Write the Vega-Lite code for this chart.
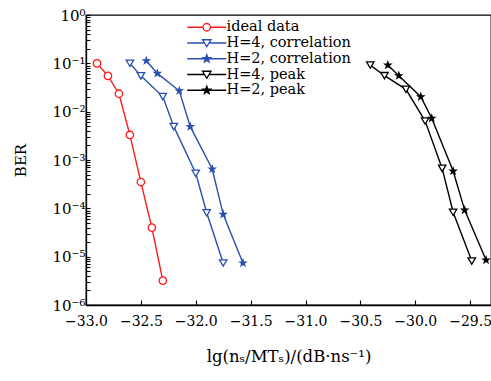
{
  "$schema": "https://vega.github.io/schema/vega-lite/v6.json",
  "width": 405,
  "height": 290,
  "autosize": {"type": "none"},
  "padding": {"left": 86, "top": 15, "right": 0, "bottom": 76},
  "config": {
    "font": "DejaVu Serif",
    "view": {"stroke": "black", "strokeWidth": 1.3},
    "axis": {"domainColor": "black", "domainWidth": 1.3, "tickColor": "black", "tickWidth": 1.1, "labelColor": "black", "titleColor": "black", "grid": false, "labelFont": "DejaVu Serif", "titleFont": "DejaVu Serif", "titleFontWeight": "normal"}
  },
  "data": {"values": [
    {"series": "ideal data", "x": -32.9, "y": 0.1},
    {"series": "ideal data", "x": -32.8, "y": 0.055},
    {"series": "ideal data", "x": -32.7, "y": 0.0235},
    {"series": "ideal data", "x": -32.6, "y": 0.0033},
    {"series": "ideal data", "x": -32.5, "y": 0.00035},
    {"series": "ideal data", "x": -32.4, "y": 0.00004},
    {"series": "ideal data", "x": -32.3, "y": 0.0000032},
    {"series": "H=4, correlation", "x": -32.6, "y": 0.1},
    {"series": "H=4, correlation", "x": -32.5, "y": 0.055},
    {"series": "H=4, correlation", "x": -32.3, "y": 0.0205},
    {"series": "H=4, correlation", "x": -32.2, "y": 0.0049},
    {"series": "H=4, correlation", "x": -32.0, "y": 0.00053},
    {"series": "H=4, correlation", "x": -31.9, "y": 0.000081},
    {"series": "H=4, correlation", "x": -31.75, "y": 0.0000074},
    {"series": "H=2, correlation", "x": -32.45, "y": 0.113},
    {"series": "H=2, correlation", "x": -32.35, "y": 0.062},
    {"series": "H=2, correlation", "x": -32.15, "y": 0.027},
    {"series": "H=2, correlation", "x": -32.05, "y": 0.0049},
    {"series": "H=2, correlation", "x": -31.85, "y": 0.00065},
    {"series": "H=2, correlation", "x": -31.75, "y": 0.000075},
    {"series": "H=2, correlation", "x": -31.57, "y": 0.0000074},
    {"series": "H=4, peak", "x": -30.41, "y": 0.092},
    {"series": "H=4, peak", "x": -30.28, "y": 0.0555},
    {"series": "H=4, peak", "x": -30.085, "y": 0.029},
    {"series": "H=4, peak", "x": -29.91, "y": 0.0064},
    {"series": "H=4, peak", "x": -29.755, "y": 0.00067},
    {"series": "H=4, peak", "x": -29.655, "y": 0.000083},
    {"series": "H=4, peak", "x": -29.485, "y": 0.0000081},
    {"series": "H=2, peak", "x": -30.25, "y": 0.092},
    {"series": "H=2, peak", "x": -30.15, "y": 0.0555},
    {"series": "H=2, peak", "x": -29.95, "y": 0.0204},
    {"series": "H=2, peak", "x": -29.85, "y": 0.0073},
    {"series": "H=2, peak", "x": -29.655, "y": 0.00059},
    {"series": "H=2, peak", "x": -29.55, "y": 0.000092},
    {"series": "H=2, peak", "x": -29.355, "y": 0.0000085}
  ]},
  "encoding": {
    "x": {"field": "x", "type": "quantitative",
      "scale": {"domain": [-33, -29.31], "nice": false, "zero": false},
      "axis": {"values": [-33, -32.5, -32, -31.5, -31, -30.5, -30, -29.5], "format": ".1f", "labelFontSize": 14, "tickSize": -5, "labelPadding": 14.5, "labelFlush": false,
        "title": "lg(nₛ/MTₛ)/(dB·ns⁻¹)", "titleFontSize": 16.5, "titlePadding": 20}},
    "y": {"field": "y", "type": "quantitative",
      "scale": {"type": "log", "domain": [0.000001, 1], "nice": false},
      "axis": {"values": [0.000001,0.000002,0.000003,0.000004,0.000005,0.000006,0.000007,0.000008,0.000009,0.00001,0.00002,0.00003,0.00004,0.00005,0.00006,0.00007,0.00008,0.00009,0.0001,0.0002,0.0003,0.0004,0.0005,0.0006,0.0007,0.0008,0.0009,0.001,0.002,0.003,0.004,0.005,0.006,0.007,0.008,0.009,0.01,0.02,0.03,0.04,0.05,0.06,0.07,0.08,0.09,0.1,0.2,0.3,0.4,0.5,0.6,0.7,0.8,0.9,1],
        "labelExpr": "abs(log(datum.value)/LN10 - round(log(datum.value)/LN10)) < 0.001 ? '10' + (round(log(datum.value)/LN10) == 0 ? '⁰' : '⁻' + ['','¹','²','³','⁴','⁵','⁶'][-round(log(datum.value)/LN10)]) : ''",
        "tickSize": -4,
        "labelFontSize": 15, "labelPadding": 5, "labelFlush": false, "labelOverlap": false,
        "title": "BER", "titleFontSize": 15, "titlePadding": 23}}
  },
  "layer": [
    {
      "mark": {"type": "line", "strokeWidth": 1.4},
      "encoding": {
        "stroke": {"field": "series", "type": "nominal", "legend": null,
          "scale": {"domain": ["ideal data", "H=4, correlation", "H=2, correlation", "H=4, peak", "H=2, peak"], "range": ["#ff1a1a", "#2a4fb0", "#2a4fb0", "black", "black"]}}
      }
    },
    {
      "mark": {"type": "point", "filled": true, "size": 55, "strokeWidth": 1.3, "opacity": 1},
      "encoding": {
        "stroke": {"field": "series", "type": "nominal", "legend": null,
          "scale": {"domain": ["ideal data", "H=4, correlation", "H=2, correlation", "H=4, peak", "H=2, peak"], "range": ["#ff1a1a", "#2a4fb0", "#2a4fb0", "black", "black"]}},
        "fill": {"field": "series", "type": "nominal", "legend": null,
          "scale": {"domain": ["ideal data", "H=4, correlation", "H=2, correlation", "H=4, peak", "H=2, peak"], "range": ["white", "white", "#2a4fb0", "white", "black"]}},
        "shape": {"field": "series", "type": "nominal", "legend": null,
          "scale": {"domain": ["ideal data", "H=4, correlation", "H=2, correlation", "H=4, peak", "H=2, peak"], "range": ["circle", "triangle-down", "M0,-0.85L0.2,-0.28L0.81,-0.26L0.32,0.11L0.5,0.69L0,0.34L-0.5,0.69L-0.32,0.11L-0.81,-0.26L-0.2,-0.28Z", "triangle-down", "M0,-0.85L0.2,-0.28L0.81,-0.26L0.32,0.11L0.5,0.69L0,0.34L-0.5,0.69L-0.32,0.11L-0.81,-0.26L-0.2,-0.28Z"]}}
      }
    },
    {
      "mark": {"type": "point", "filled": true, "size": 10, "opacity": 0},
      "encoding": {
        "stroke": {"field": "series", "type": "nominal",
          "scale": {"domain": ["ideal data", "H=4, correlation", "H=2, correlation", "H=4, peak", "H=2, peak"], "range": ["#ff1a1a", "#2a4fb0", "#2a4fb0", "black", "black"]},
          "legend": {"orient": "none", "legendX": 113.5, "legendY": 5, "title": null, "padding": 0, "offset": 0, "labelFont": "DejaVu Serif", "labelFontSize": 14.5, "labelColor": "black", "labelOffset": 12.5, "symbolSize": 100, "symbolStrokeWidth": 1.3, "symbolOpacity": 1, "rowPadding": 0.75}},
        "fill": {"field": "series", "type": "nominal",
          "scale": {"domain": ["ideal data", "H=4, correlation", "H=2, correlation", "H=4, peak", "H=2, peak"], "range": ["white", "white", "#2a4fb0", "white", "black"]},
          "legend": {"orient": "none", "legendX": 113.5, "legendY": 5, "title": null, "padding": 0, "offset": 0, "labelFont": "DejaVu Serif", "labelFontSize": 14.5, "labelColor": "black", "labelOffset": 12.5, "symbolSize": 100, "symbolStrokeWidth": 1.3, "symbolOpacity": 1, "rowPadding": 0.75}},
        "shape": {"field": "series", "type": "nominal",
          "scale": {"domain": ["ideal data", "H=4, correlation", "H=2, correlation", "H=4, peak", "H=2, peak"], "range": [
            "M-3.9,0L-0.75,0M0.75,0L3.9,0M0.75,0A0.75,0.75,0,1,1,-0.75,0A0.75,0.75,0,1,1,0.75,0",
            "M-3.9,0L-0.45,0M0.45,0L3.9,0M-0.85,-0.65L0.85,-0.65L0,0.75Z",
            "M-3.9,0L3.9,0M0,-0.8L0.19,-0.26L0.76,-0.25L0.3,0.1L0.47,0.65L0,0.32L-0.47,0.65L-0.3,0.1L-0.76,-0.25L-0.19,-0.26Z",
            "M-3.9,0L-0.45,0M0.45,0L3.9,0M-0.85,-0.65L0.85,-0.65L0,0.75Z",
            "M-3.9,0L3.9,0M0,-0.8L0.19,-0.26L0.76,-0.25L0.3,0.1L0.47,0.65L0,0.32L-0.47,0.65L-0.3,0.1L-0.76,-0.25L-0.19,-0.26Z"]},
          "legend": {"orient": "none", "legendX": 113.5, "legendY": 5, "title": null, "padding": 0, "offset": 0, "labelFont": "DejaVu Serif", "labelFontSize": 14.5, "labelColor": "black", "labelOffset": 12.5, "symbolSize": 100, "symbolStrokeWidth": 1.3, "symbolOpacity": 1, "rowPadding": 0.75}}
      }
    }
  ],
  "resolve": {"scale": {"stroke": "independent", "fill": "independent", "shape": "independent"}}
}
